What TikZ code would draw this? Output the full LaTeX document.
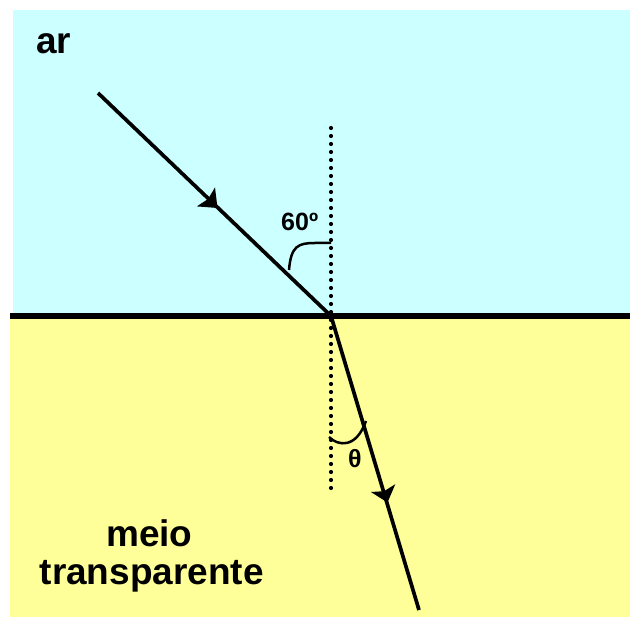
\documentclass[tikz,border=0pt]{standalone}
\usepackage{fontspec}
\setmainfont{Liberation Sans}
\definecolor{aircol}{HTML}{CCFFFF}
\definecolor{medcol}{HTML}{FFFF99}
\begin{document}
\begin{tikzpicture}[x=1pt,y=-1pt,
  ray/.style={line width=3.7pt},
  dotline/.style={line width=4.2pt,line cap=round,dash pattern=on 0pt off 8pt},
  arcline/.style={line width=2.5pt},
  headfill/.style={fill=black},
  bigtxt/.style={inner sep=0pt,font=\fontsize{37}{42}\selectfont\bfseries},
  smalltxt/.style={inner sep=0pt,font=\fontsize{25}{30}\selectfont\bfseries}]
\useasboundingbox (0,0) rectangle (630,617);
\fill[white] (0,0) rectangle (630,617);
\fill[aircol] (13,10) rectangle (630,316);
\fill[medcol] (10,316) rectangle (630,617);
\coordinate (P) at (331,316);
\coordinate (A) at (98,93);
\coordinate (B) at (419,610);
\coordinate (N1) at (331,128);
\coordinate (N2) at (331,490);
\coordinate (L) at (10,316);
\coordinate (R) at (630,316);
\draw[dotline] (N1) -- (N2);
\draw[line width=5.5pt] (L) -- (R);
\draw[ray] (A) -- (P);
\draw[ray] (P) -- (B);
\fill[headfill] (217.5,208.0) -- (196.8,206.4) -- (208.1,199.0) -- (215.0,187.4) -- cycle;
\fill[headfill] (387.5,502.5) -- (370.9,492.0) -- (384.1,491.2) -- (395.3,484.2) -- cycle;
\draw[arcline] (289,270) .. controls (291,246) and (298,243) .. (315,243) -- (331,243);
\draw[arcline] (329,437) .. controls (338,446) and (356,449) .. (366,421);
\node[bigtxt,anchor=base west] (ar) at (36,54) {ar};
\node[bigtxt,anchor=base west] (meio) at (106,547) {meio};
\node[bigtxt,anchor=base west] (transp) at (39.5,585) {transparente};
\node[smalltxt,anchor=base west] (ang) at (281,231) {60º};
\node[smalltxt,anchor=base west] (theta) at (348,468) {θ};
\end{tikzpicture}
\end{document}
